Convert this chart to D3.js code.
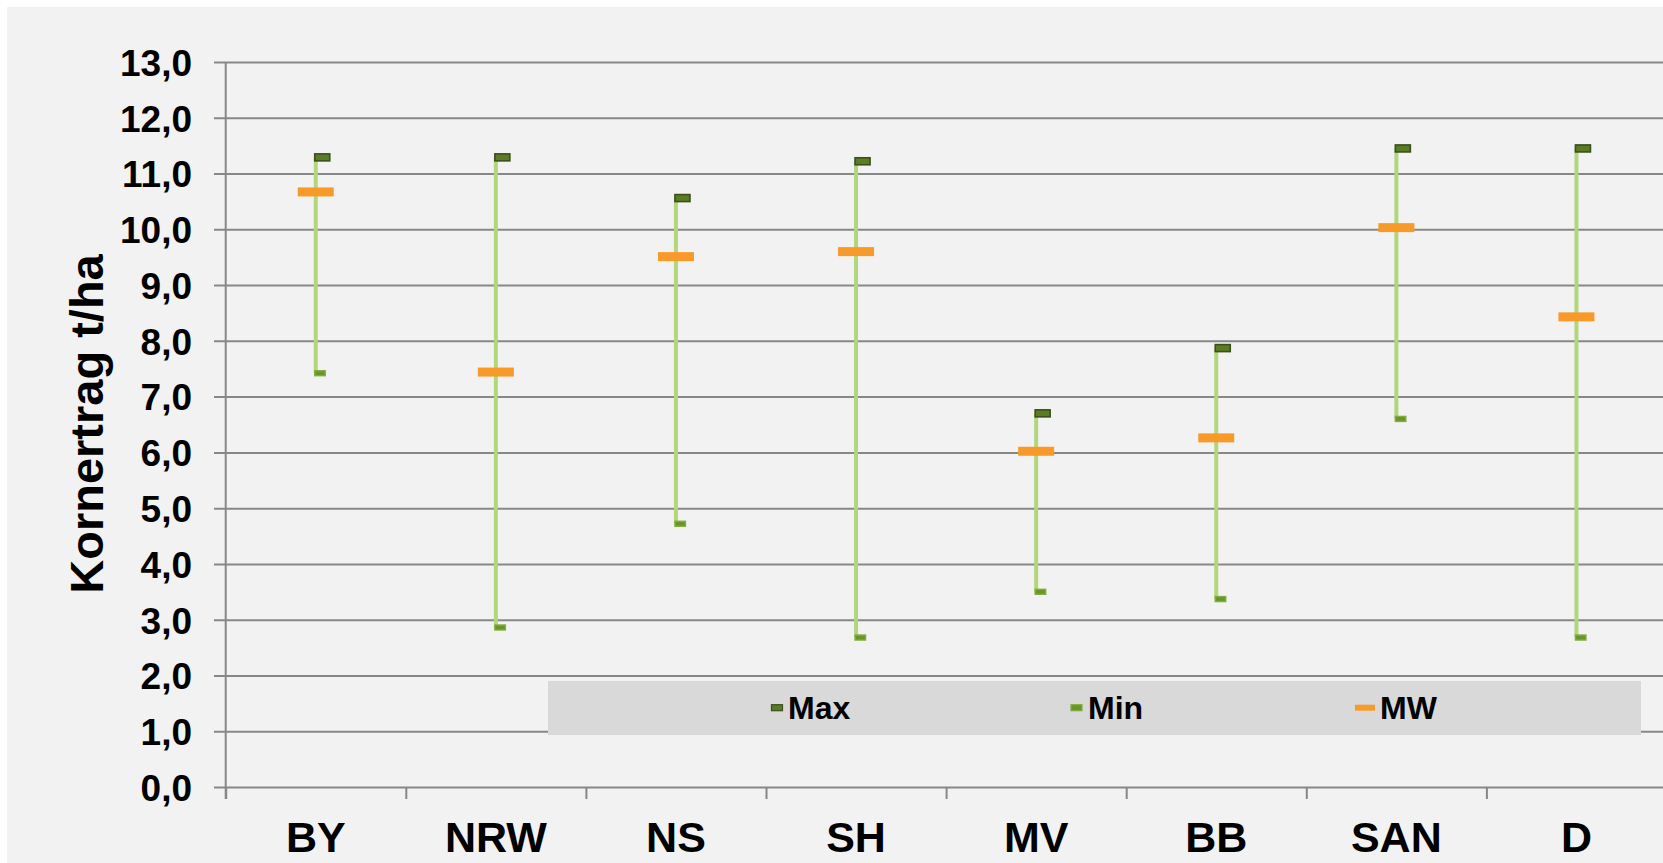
<!DOCTYPE html>
<html>
<head>
<meta charset="utf-8">
<script src="https://cdn.jsdelivr.net/npm/d3@7"></script>
<style>
  body { margin: 0; background: #ffffff; }
  svg { display: block; }
  text { font-family: "Liberation Sans", Arial, sans-serif; font-weight: bold; fill: #000; }
</style>
</head>
<body>
<div class="svg-content"></div>
<script>
// Kornertrag je Bundesland: Max / Min / Mittelwert (t/ha)
const regions = ["BY", "NRW", "NS", "SH", "MV", "BB", "SAN", "D"];
const maxValues = [11.29, 11.29, 10.56, 11.22, 6.70, 7.87, 11.45, 11.45];
const minValues = [7.42, 2.86, 4.72, 2.68, 3.50, 3.37, 6.60, 2.68];
const mwValues = [10.67, 7.44, 9.51, 9.60, 6.02, 6.26, 10.03, 8.43];
const yTicks = [0, 1, 2, 3, 4, 5, 6, 7, 8, 9, 10, 11, 12, 13];
const legendLabels = ["Max", "Min", "MW"];

const svgWidth = 1663;
const svgHeight = 863;

const plotLeft = 225.7;
const plotTop = 62;
const plotBottom = 787;
const bandWidth = 180.1;

const data = regions.map((r, i) => ({
  region: r,
  max: maxValues[i],
  min: minValues[i],
  mw: mwValues[i]
}));

const de = d3.formatLocale({ decimal: ",", thousands: ".", grouping: [3], currency: ["", " €"] });

let svg = d3.select(".svg-content")
            .append("svg")
            .attr("width", svgWidth)
            .attr("height", svgHeight);

svg.append("rect")
   .attr("x", 7)
   .attr("y", 7)
   .attr("width", svgWidth - 7)
   .attr("height", svgHeight - 7)
   .attr("fill", "#f2f2f2");

const xScale = d3.scaleBand()
                 .domain(regions)
                 .range([plotLeft, plotLeft + regions.length * bandWidth])
                 .padding(0);

const xEdges = d3.scaleLinear()
                 .domain([0, regions.length])
                 .range([plotLeft, plotLeft + regions.length * bandWidth]);

const yScale = d3.scaleLinear()
                 .domain([0, 13])
                 .range([plotBottom, plotTop]);

// horizontal grid + y labels
const yAxis = d3.axisLeft(yScale)
                .tickValues(yTicks)
                .tickSize(-(svgWidth - 214))
                .tickPadding(22)
                .tickFormat(de.format(".1f"));

const gy = svg.append("g")
              .attr("id", "y-axis")
              .attr("transform", "translate(214,0)")
              .call(yAxis);

gy.select(".domain").remove();
gy.selectAll(".tick line")
  .attr("stroke", "#878787")
  .attr("stroke-width", 2);
gy.selectAll(".tick text")
  .attr("font-size", 37)
  .attr("dy", "0.36em");

// vertical axis line
svg.append("line")
   .attr("x1", plotLeft)
   .attr("x2", plotLeft)
   .attr("y1", yScale(13))
   .attr("y2", plotBottom + 12)
   .attr("stroke", "#878787")
   .attr("stroke-width", 2);

// category boundary ticks
const xTickAxis = d3.axisBottom(xEdges)
                    .ticks(regions.length)
                    .tickSize(12)
                    .tickFormat("");

const gx = svg.append("g")
              .attr("transform", "translate(0," + plotBottom + ")")
              .call(xTickAxis);
gx.select(".domain").remove();
gx.selectAll(".tick line")
  .attr("stroke", "#878787")
  .attr("stroke-width", 2);

// category labels
svg.selectAll(".xlabel")
   .data(regions)
   .enter()
   .append("text")
   .attr("class", "xlabel")
   .attr("x", d => xScale(d) + xScale.bandwidth() / 2)
   .attr("y", 852)
   .attr("text-anchor", "middle")
   .attr("font-size", 43)
   .text(d => d);

// y title
svg.append("text")
   .attr("transform", "translate(103,424) rotate(-90)")
   .attr("text-anchor", "middle")
   .attr("font-size", 47)
   .text("Kornertrag t/ha");

// legend box
svg.append("rect")
   .attr("x", 548)
   .attr("y", 681)
   .attr("width", 1641 - 548)
   .attr("height", 54)
   .attr("fill", "#d9d9d9");

// high-low lines
const cx = d => xScale(d.region) + xScale.bandwidth() / 2;

svg.selectAll(".hilo")
   .data(data)
   .enter()
   .append("line")
   .attr("class", "hilo")
   .attr("x1", cx)
   .attr("x2", cx)
   .attr("y1", d => yScale(d.max))
   .attr("y2", d => yScale(d.min))
   .attr("stroke", "#b2d67c")
   .attr("stroke-width", 4);

// max markers
svg.selectAll(".maxmark")
   .data(data)
   .enter()
   .append("rect")
   .attr("class", "maxmark")
   .attr("x", d => cx(d) - 1)
   .attr("y", d => yScale(d.max) - 3.5)
   .attr("width", 15)
   .attr("height", 7)
   .attr("fill", "#5a7d24")
   .attr("stroke", "#3c4f1b")
   .attr("stroke-width", 1.6);

// min markers
svg.selectAll(".minmark")
   .data(data)
   .enter()
   .append("rect")
   .attr("class", "minmark")
   .attr("x", d => cx(d) - 1)
   .attr("y", d => yScale(d.min) - 2.5)
   .attr("width", 10.5)
   .attr("height", 5)
   .attr("fill", "#6a952b")
   .attr("stroke", "#7fae3e")
   .attr("stroke-width", 1.4);

// mean markers
svg.selectAll(".mwmark")
   .data(data)
   .enter()
   .append("rect")
   .attr("class", "mwmark")
   .attr("x", d => cx(d) - 18)
   .attr("y", d => yScale(d.mw) - 4.5)
   .attr("width", 36)
   .attr("height", 9)
   .attr("fill", "#f89a2a");

// legend entries
const legendItems = [
  { label: legendLabels[0], mx: 771.5, mw: 11, fill: "#5a7d24", stroke: "#3c4f1b", tx: 788 },
  { label: legendLabels[1], mx: 1071, mw: 11, fill: "#6a952b", stroke: "#7fae3e", tx: 1088 },
  { label: legendLabels[2], mx: 1355, mw: 20, fill: "#f89a2a", stroke: "none", tx: 1380 }
];

const lg = svg.selectAll(".legend")
              .data(legendItems)
              .enter()
              .append("g")
              .attr("class", "legend");

lg.append("rect")
  .attr("x", d => d.mx)
  .attr("y", 704.7)
  .attr("width", d => d.mw)
  .attr("height", 6)
  .attr("fill", d => d.fill)
  .attr("stroke", d => d.stroke)
  .attr("stroke-width", 1.2);

lg.append("text")
  .attr("x", d => d.tx)
  .attr("y", 718.5)
  .attr("font-size", 32)
  .text(d => d.label);
</script>
</body>
</html>
